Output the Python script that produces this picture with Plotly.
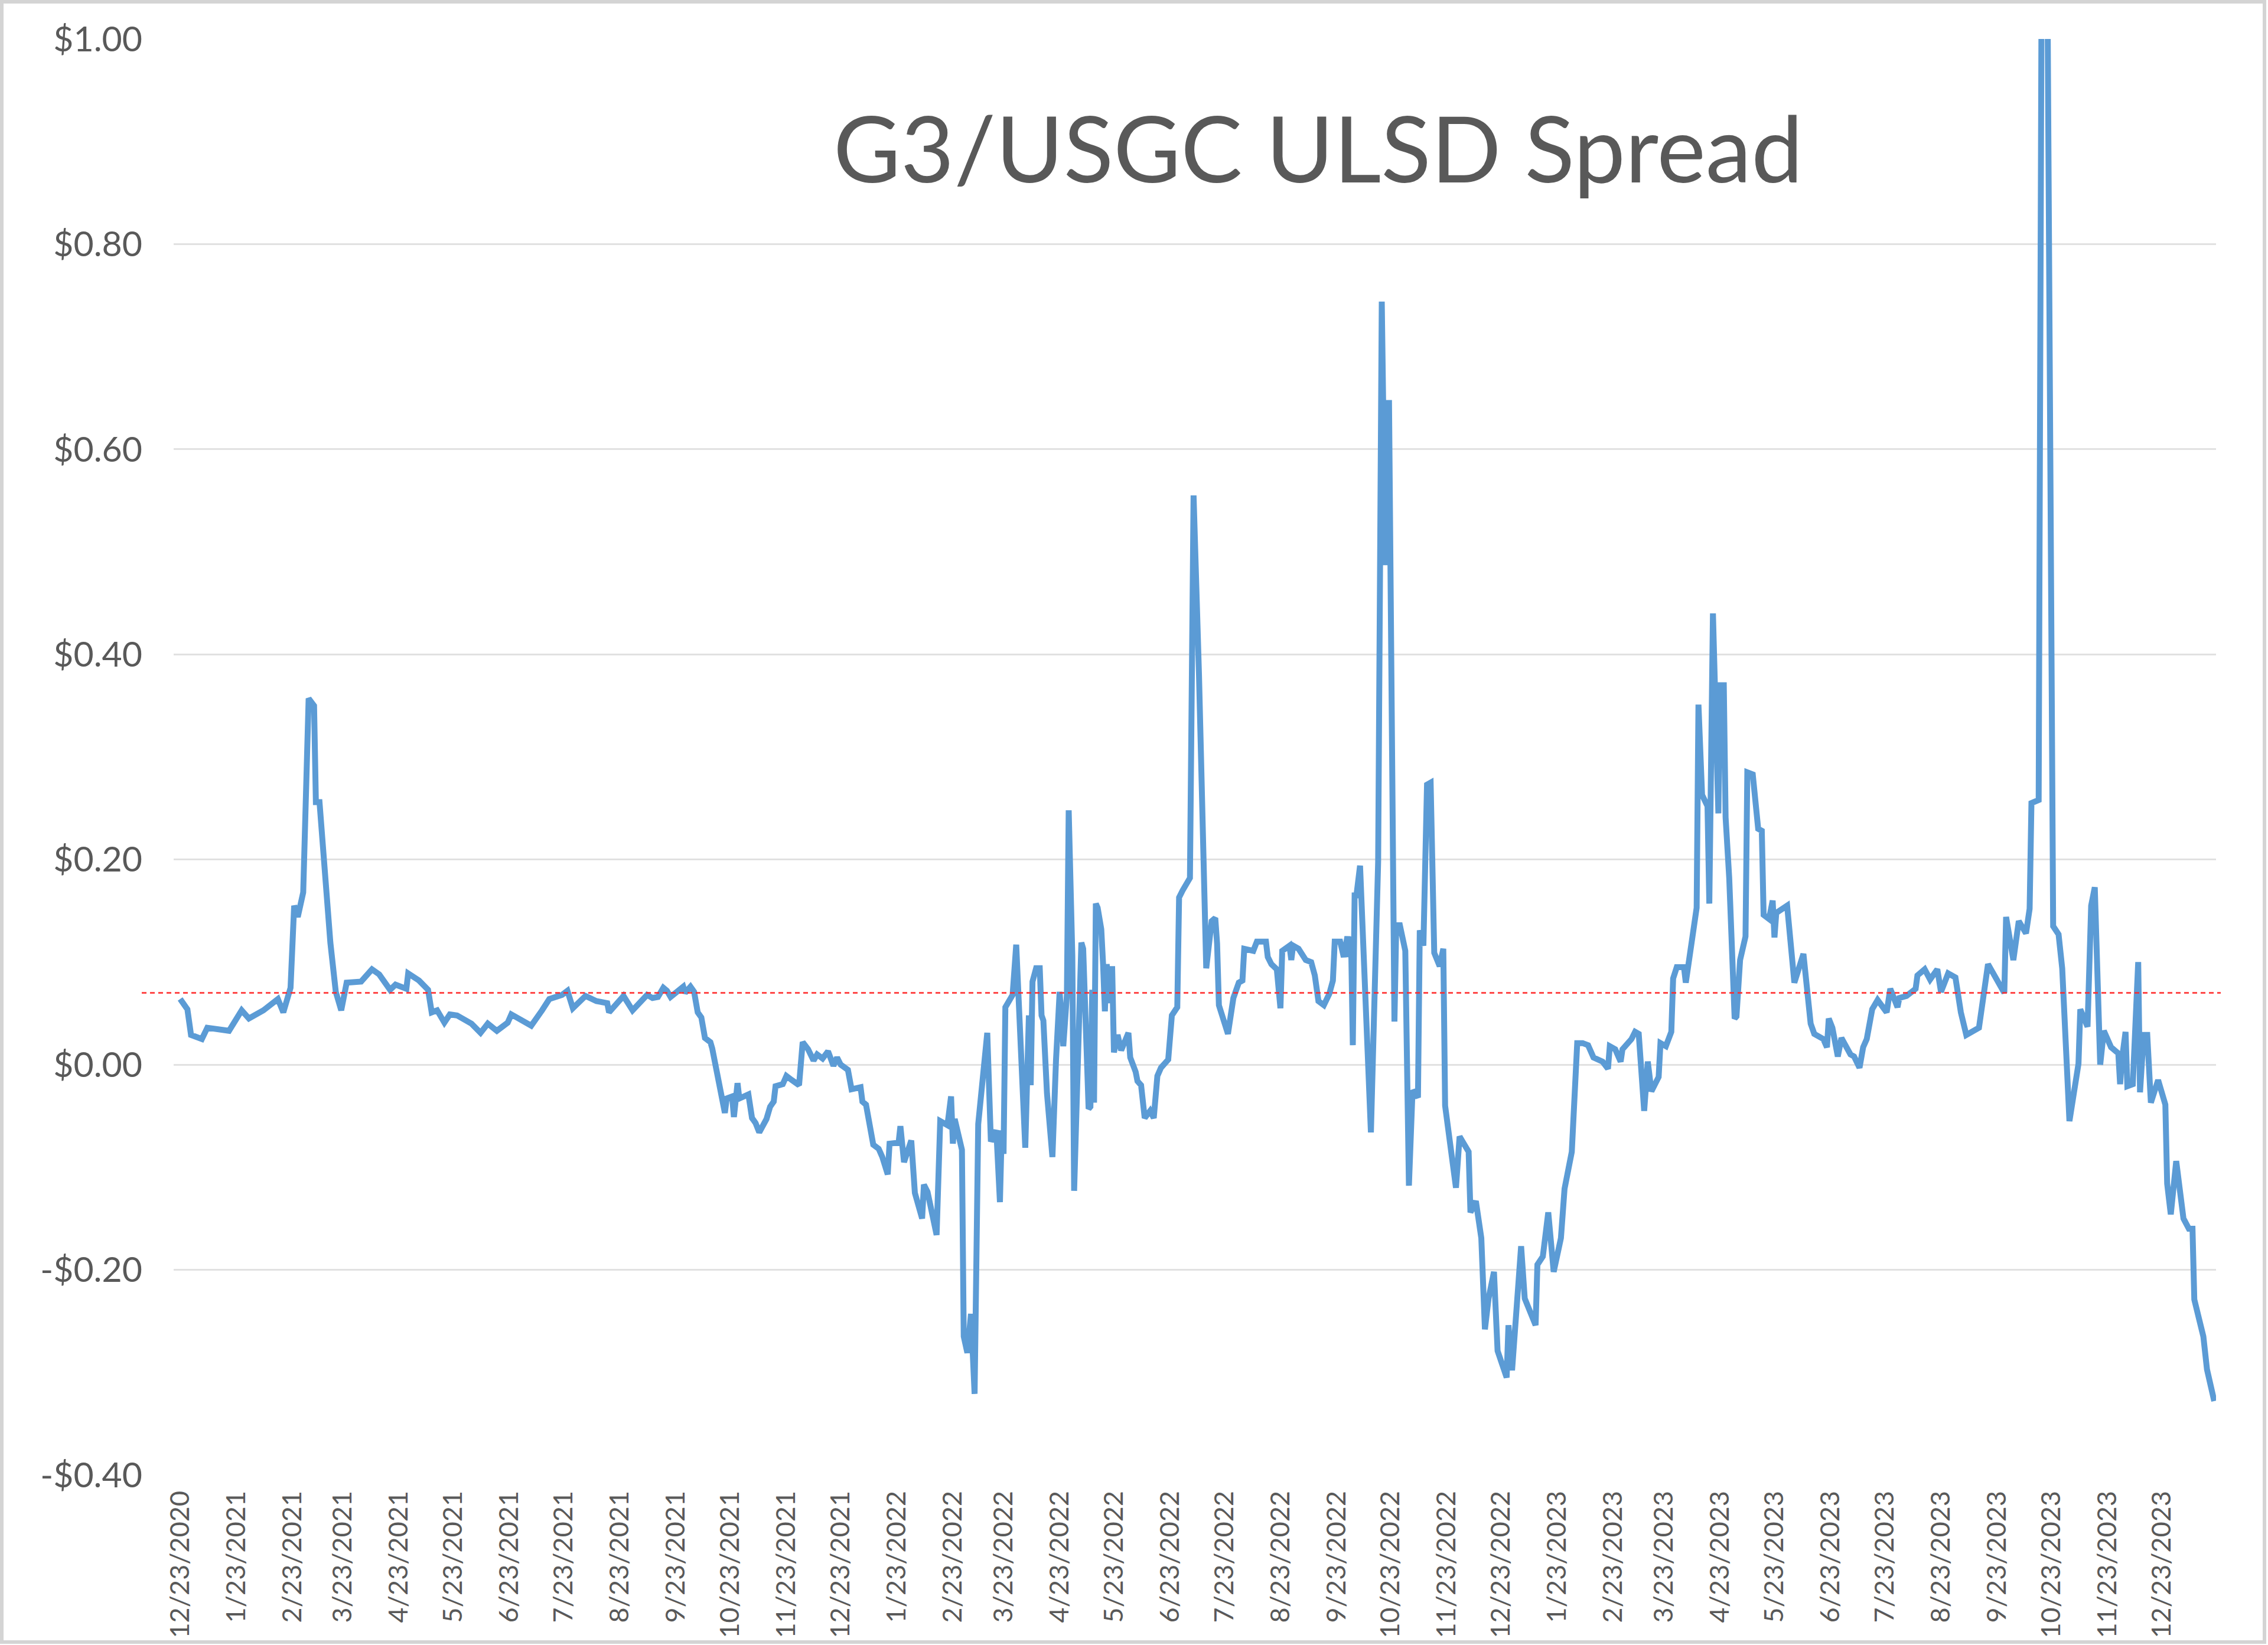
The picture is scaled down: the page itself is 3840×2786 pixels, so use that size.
import plotly.graph_objects as go

# ---- data ----
dates = [
    "2020-12-23","2020-12-27","2020-12-29","2021-01-04","2021-01-07","2021-01-19","2021-01-26","2021-01-30",
    "2021-02-07","2021-02-15","2021-02-18","2021-02-22","2021-02-24","2021-02-26","2021-03-01","2021-03-04",
    "2021-03-07","2021-03-08","2021-03-10","2021-03-16","2021-03-19","2021-03-22","2021-03-25","2021-04-02",
    "2021-04-08","2021-04-12","2021-04-18","2021-04-21","2021-04-27","2021-04-28","2021-05-04","2021-05-09",
    "2021-05-11","2021-05-14","2021-05-18","2021-05-21","2021-05-25","2021-06-02","2021-06-07","2021-06-11",
    "2021-06-16","2021-06-22","2021-06-24","2021-07-05","2021-07-11","2021-07-15","2021-07-22","2021-07-25",
    "2021-07-28","2021-08-04","2021-08-10","2021-08-16","2021-08-17","2021-08-21","2021-08-25","2021-08-30",
    "2021-09-03","2021-09-07","2021-09-10","2021-09-13","2021-09-16","2021-09-18","2021-09-20","2021-09-23",
    "2021-09-27","2021-09-28","2021-10-01","2021-10-03","2021-10-05","2021-10-07","2021-10-09","2021-10-12",
    "2021-10-13","2021-10-20","2021-10-21","2021-10-24","2021-10-25","2021-10-27","2021-10-28","2021-11-02",
    "2021-11-04","2021-11-06","2021-11-08","2021-11-12","2021-11-14","2021-11-16","2021-11-17","2021-11-21",
    "2021-11-23","2021-11-26","2021-11-30","2021-12-02","2021-12-05","2021-12-08","2021-12-10","2021-12-13",
    "2021-12-16","2021-12-19","2021-12-21","2021-12-23","2021-12-27","2021-12-29","2022-01-03","2022-01-04",
    "2022-01-06","2022-01-10","2022-01-13","2022-01-15","2022-01-18","2022-01-19","2022-01-24","2022-01-25",
    "2022-01-27","2022-01-31","2022-02-02","2022-02-06","2022-02-07","2022-02-09","2022-02-14","2022-02-16",
    "2022-02-20","2022-02-22","2022-02-23","2022-02-24","2022-02-28","2022-03-01","2022-03-03","2022-03-05",
    "2022-03-07","2022-03-09","2022-03-14","2022-03-16","2022-03-19","2022-03-21","2022-03-22","2022-03-23",
    "2022-03-24","2022-03-28","2022-03-29","2022-03-30","2022-04-04","2022-04-06","2022-04-07","2022-04-08",
    "2022-04-10","2022-04-12","2022-04-13","2022-04-14","2022-04-16","2022-04-19","2022-04-21","2022-04-23",
    "2022-04-25","2022-04-27","2022-04-28","2022-04-30","2022-05-01","2022-05-05","2022-05-06","2022-05-09",
    "2022-05-10","2022-05-11","2022-05-12","2022-05-13","2022-05-14","2022-05-16","2022-05-17","2022-05-18",
    "2022-05-19","2022-05-21","2022-05-22","2022-05-23","2022-05-25","2022-05-27","2022-05-31","2022-06-01",
    "2022-06-04","2022-06-05","2022-06-07","2022-06-08","2022-06-09","2022-06-12","2022-06-14","2022-06-16",
    "2022-06-18","2022-06-22","2022-06-23","2022-06-24","2022-06-27","2022-06-28","2022-06-30","2022-07-04",
    "2022-07-06","2022-07-08","2022-07-09","2022-07-13","2022-07-16","2022-07-18","2022-07-19","2022-07-20",
    "2022-07-25","2022-07-28","2022-07-31","2022-08-02","2022-08-03","2022-08-08","2022-08-10","2022-08-15",
    "2022-08-16","2022-08-18","2022-08-21","2022-08-23","2022-08-24","2022-08-28","2022-08-29","2022-08-30",
    "2022-09-02","2022-09-06","2022-09-09","2022-09-11","2022-09-13","2022-09-16","2022-09-19","2022-09-21",
    "2022-09-22","2022-09-25","2022-09-27","2022-09-29","2022-09-30","2022-10-01","2022-10-02","2022-10-03",
    "2022-10-04","2022-10-06","2022-10-12","2022-10-16","2022-10-18","2022-10-20","2022-10-22","2022-10-25",
    "2022-10-26","2022-10-28","2022-10-31","2022-11-02","2022-11-04","2022-11-07","2022-11-08","2022-11-10",
    "2022-11-12","2022-11-14","2022-11-16","2022-11-19","2022-11-21","2022-11-22","2022-11-28","2022-11-30",
    "2022-12-05","2022-12-06","2022-12-09","2022-12-12","2022-12-14","2022-12-16","2022-12-19","2022-12-21",
    "2022-12-26","2022-12-27","2022-12-29","2023-01-03","2023-01-05","2023-01-11","2023-01-12","2023-01-15",
    "2023-01-18","2023-01-21","2023-01-25","2023-01-27","2023-01-31","2023-02-03","2023-02-06","2023-02-09",
    "2023-02-12","2023-02-17","2023-02-20","2023-02-21","2023-02-24","2023-02-27","2023-02-28","2023-03-05",
    "2023-03-07","2023-03-09","2023-03-12","2023-03-14","2023-03-16","2023-03-20","2023-03-21","2023-03-24",
    "2023-03-27","2023-03-28","2023-03-30","2023-04-03","2023-04-04","2023-04-10","2023-04-11","2023-04-13",
    "2023-04-16","2023-04-17","2023-04-19","2023-04-22","2023-04-23","2023-04-25","2023-04-26","2023-04-28",
    "2023-05-01","2023-05-02","2023-05-04","2023-05-07","2023-05-08","2023-05-11","2023-05-14","2023-05-16",
    "2023-05-17","2023-05-20","2023-05-22","2023-05-23","2023-05-24","2023-05-30","2023-06-03","2023-06-08",
    "2023-06-12","2023-06-14","2023-06-19","2023-06-21","2023-06-22","2023-06-24","2023-06-27","2023-06-29",
    "2023-07-04","2023-07-06","2023-07-09","2023-07-11","2023-07-13","2023-07-16","2023-07-19","2023-07-24",
    "2023-07-26","2023-07-30","2023-07-31","2023-08-04","2023-08-09","2023-08-10","2023-08-14","2023-08-17",
    "2023-08-21","2023-08-23","2023-08-27","2023-08-31","2023-09-03","2023-09-06","2023-09-13","2023-09-18",
    "2023-09-27","2023-09-28","2023-10-02","2023-10-05","2023-10-09","2023-10-11","2023-10-12","2023-10-16",
    "2023-10-18","2023-10-20","2023-10-23","2023-10-24","2023-10-27","2023-10-29","2023-11-02","2023-11-07",
    "2023-11-08","2023-11-12","2023-11-14","2023-11-16","2023-11-19","2023-11-21","2023-11-25","2023-11-29",
    "2023-11-30","2023-12-01","2023-12-03","2023-12-04","2023-12-07","2023-12-10","2023-12-11","2023-12-13",
    "2023-12-15","2023-12-17","2023-12-21","2023-12-25","2023-12-26","2023-12-28","2023-12-31","2024-01-04",
    "2024-01-07","2024-01-09","2024-01-10","2024-01-15","2024-01-17","2024-01-21",
]

spread = [
    0.064, 0.054, 0.029, 0.025, 0.036, 0.033, 0.053, 0.045,
    0.053, 0.064, 0.051, 0.075, 0.155, 0.144, 0.168, 0.357,
    0.350, 0.256, 0.256, 0.119, 0.071, 0.053, 0.080, 0.081,
    0.093, 0.088, 0.073, 0.078, 0.074, 0.089, 0.082, 0.073,
    0.051, 0.053, 0.041, 0.049, 0.048, 0.040, 0.031, 0.040,
    0.033, 0.041, 0.049, 0.038, 0.053, 0.064, 0.068, 0.072,
    0.055, 0.067, 0.062, 0.060, 0.051, 0.060, 0.067, 0.053,
    0.060, 0.068, 0.065, 0.066, 0.075, 0.072, 0.066, 0.071,
    0.076, 0.070, 0.076, 0.071, 0.051, 0.046, 0.026, 0.022,
    0.016, -0.047, -0.033, -0.031, -0.051, -0.018, -0.033, -0.029,
    -0.052, -0.057, -0.066, -0.053, -0.041, -0.036, -0.021, -0.019,
    -0.011, -0.015, -0.020, 0.022, 0.015, 0.004, 0.010, 0.006,
    0.013, -0.001, 0.007, 0.000, -0.005, -0.024, -0.022, -0.036,
    -0.039, -0.078, -0.082, -0.090, -0.107, -0.077, -0.076, -0.060,
    -0.095, -0.074, -0.125, -0.150, -0.117, -0.124, -0.166, -0.055,
    -0.059, -0.031, -0.077, -0.053, -0.083, -0.265, -0.281, -0.243,
    -0.321, -0.058, 0.031, -0.075, -0.064, -0.134, -0.064, -0.087,
    0.056, 0.068, 0.096, 0.117, -0.081, 0.048, -0.020, 0.081,
    0.094, 0.094, 0.048, 0.043, -0.028, -0.090, 0.005, 0.071,
    0.018, 0.068, 0.248, 0.106, -0.123, 0.119, 0.113, -0.043,
    -0.041, 0.073, -0.037, 0.157, 0.153, 0.132, 0.098, 0.052,
    0.098, 0.060, 0.096, 0.012, 0.029, 0.014, 0.031, 0.007,
    -0.007, -0.016, -0.020, -0.037, -0.052, -0.045, -0.052, -0.011,
    -0.003, 0.005, 0.035, 0.048, 0.056, 0.163, 0.170, 0.182,
    0.555, 0.450, 0.380, 0.094, 0.140, 0.143, 0.118, 0.058,
    0.030, 0.065, 0.080, 0.082, 0.113, 0.111, 0.120, 0.120,
    0.105, 0.098, 0.093, 0.055, 0.111, 0.116, 0.102, 0.116,
    0.113, 0.102, 0.100, 0.087, 0.062, 0.058, 0.069, 0.082,
    0.120, 0.120, 0.105, 0.125, 0.105, 0.125, 0.019, 0.165,
    0.165, 0.194, -0.066, 0.198, 0.744, 0.487, 0.648, 0.042,
    0.136, 0.136, 0.111, -0.118, -0.025, -0.032, 0.131, 0.116,
    0.273, 0.275, 0.109, 0.096, 0.113, -0.040, -0.120, -0.070,
    -0.085, -0.144, -0.133, -0.169, -0.258, -0.228, -0.202, -0.279,
    -0.305, -0.254, -0.298, -0.177, -0.228, -0.254, -0.195, -0.187,
    -0.144, -0.202, -0.169, -0.121, -0.085, 0.021, 0.021, 0.019,
    0.007, 0.003, -0.004, 0.018, 0.015, 0.003, 0.015, 0.025,
    0.032, 0.030, -0.045, 0.003, -0.026, -0.012, 0.021, 0.018,
    0.032, 0.084, 0.095, 0.095, 0.080, 0.153, 0.351, 0.263,
    0.252, 0.157, 0.440, 0.245, 0.370, 0.370, 0.241, 0.182,
    0.045, 0.047, 0.102, 0.125, 0.285, 0.283, 0.230, 0.228,
    0.146, 0.142, 0.160, 0.124, 0.148, 0.155, 0.080, 0.108,
    0.040, 0.030, 0.025, 0.017, 0.045, 0.036, 0.008, 0.026,
    0.010, 0.008, -0.003, 0.017, 0.025, 0.054, 0.063, 0.051,
    0.074, 0.056, 0.065, 0.067, 0.074, 0.087, 0.093, 0.083,
    0.093, 0.071, 0.089, 0.085, 0.051, 0.029, 0.036, 0.098,
    0.070, 0.144, 0.102, 0.140, 0.128, 0.152, 0.255, 0.258,
    1.250, 1.300, 0.230, 0.135, 0.127, 0.094, -0.055, 0.001,
    0.054, 0.037, 0.155, 0.173, 0.000, 0.033, 0.017, 0.011,
    -0.019, 0.005, 0.032, -0.021, -0.019, 0.100, -0.027, 0.029,
    0.029, -0.037, -0.015, -0.039, -0.116, -0.146, -0.094, -0.150,
    -0.160, -0.160, -0.229, -0.265, -0.297, -0.328,
]

reference_level = 0.07

tick_dates = [
    "2020-12-23","2021-01-23","2021-02-23","2021-03-23","2021-04-23","2021-05-23","2021-06-23",
    "2021-07-23","2021-08-23","2021-09-23","2021-10-23","2021-11-23","2021-12-23","2022-01-23",
    "2022-02-23","2022-03-23","2022-04-23","2022-05-23","2022-06-23","2022-07-23","2022-08-23",
    "2022-09-23","2022-10-23","2022-11-23","2022-12-23","2023-01-23","2023-02-23","2023-03-23",
    "2023-04-23","2023-05-23","2023-06-23","2023-07-23","2023-08-23","2023-09-23","2023-10-23",
    "2023-11-23","2023-12-23",
]
tick_text = [
    "12/23/2020","1/23/2021","2/23/2021","3/23/2021","4/23/2021","5/23/2021","6/23/2021",
    "7/23/2021","8/23/2021","9/23/2021","10/23/2021","11/23/2021","12/23/2021","1/23/2022",
    "2/23/2022","3/23/2022","4/23/2022","5/23/2022","6/23/2022","7/23/2022","8/23/2022",
    "9/23/2022","10/23/2022","11/23/2022","12/23/2022","1/23/2023","2/23/2023","3/23/2023",
    "4/23/2023","5/23/2023","6/23/2023","7/23/2023","8/23/2023","9/23/2023","10/23/2023",
    "11/23/2023","12/23/2023",
]
y_tick_vals = [-0.4, -0.2, 0.0, 0.2, 0.4, 0.6, 0.8, 1.0]
y_tick_text = ["-$0.40", "-$0.20", "$0.00", "$0.20", "$0.40", "$0.60", "$0.80", "$1.00"]

title_text = "G3/USGC ULSD Spread"

# ---- figure ----
W, H = 3840, 2786
L, R, T, B = 294, 88, 66, 288
pw, ph = W - L - R, H - T - B


def px_x(px):
    return (px - L) / pw


def px_y(py):
    return (H - B - py) / ph


fig = go.Figure()
fig.add_trace(go.Scatter(
    x=dates, y=spread, mode="lines",
    line=dict(color="#5B9BD5", width=10),
    hoverinfo="x+y", showlegend=False,
))

fig.update_layout(
    width=W, height=H,
    margin=dict(l=L, r=R, t=T, b=B, pad=0, autoexpand=False),
    paper_bgcolor="white", plot_bgcolor="white",
    font=dict(family="Lato, 'Open Sans', sans-serif", color="#595959"),
    showlegend=False,
)

fig.update_xaxes(
    type="date", automargin=False,
    range=["2020-12-19 09:36", "2024-01-22 00:00"],
    tickmode="array", tickvals=tick_dates, ticktext=tick_text,
    tickangle=-90, tickfont=dict(size=45, color="#595959"),
    showgrid=False, zeroline=False, showline=False,
    ticks="", ticklabelstandoff=17,
)
fig.update_yaxes(
    automargin=False,
    range=[-0.4, 1.0],
    tickmode="array", tickvals=y_tick_vals, ticktext=y_tick_text,
    tickfont=dict(size=59, color="#595959"),
    showgrid=True, gridcolor="#E1E1E1", gridwidth=3,
    zeroline=False, showline=False, ticks="", ticklabelstandoff=52,
)

# red dashed reference line (extends slightly past the plot area, as in the original)
fig.add_shape(
    type="line", xref="paper", yref="y",
    x0=px_x(240), x1=px_x(3760), y0=reference_level, y1=reference_level,
    line=dict(color="rgba(255,40,40,0.85)", width=3, dash="8px,6px"),
    layer="above",
)

# outer light-gray frame
fig.add_shape(
    type="rect", xref="paper", yref="paper",
    x0=px_x(3), x1=px_x(3834), y0=px_y(2781), y1=px_y(3),
    line=dict(color="#D4D4D4", width=6), fillcolor="rgba(0,0,0,0)",
    layer="above",
)

fig.add_annotation(
    text=title_text, xref="paper", yref="paper",
    x=px_x(2232), y=px_y(248), xanchor="center", yanchor="middle",
    showarrow=False, font=dict(size=156, color="#595959", family="Lato, 'Open Sans', sans-serif"),
)

fig.write_html("out.html")
